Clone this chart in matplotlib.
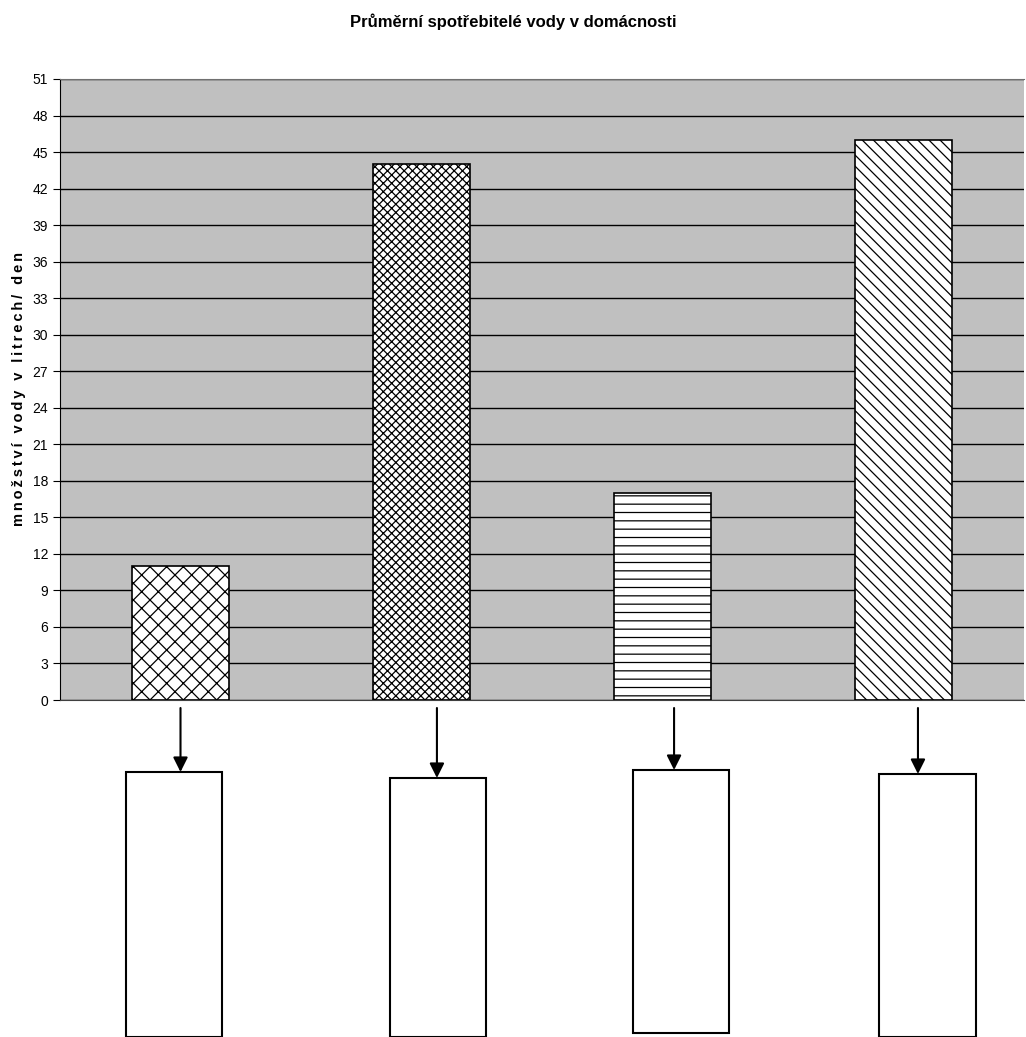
import numpy as np
import matplotlib.pyplot as plt
from matplotlib.patches import Rectangle

plt.rcParams['font.family'] = ['Liberation Sans', 'DejaVu Sans']
plt.rcParams['hatch.linewidth'] = 0.9
plt.rcParams['hatch.color'] = '#303030'

# data
kategorie = ['A', 'B', 'C', 'D']
hodnoty = [11, 44, 17, 46]
vzory = ['xx', 'xxxx', '--', '\\\\\\']
titulek = 'Průměrní spotřebitelé vody v domácnosti'
popisek_y = 'množství vody v litrech/ den'
yticky = list(range(0, 52, 3))

fig = plt.figure(figsize=(10.26, 10.37), dpi=100)
ax = fig.add_axes([60/1026, 1-700/1037, 964/1026, 621/1037])
ax.set_facecolor('#c0c0c0')

x = np.arange(len(kategorie))
for i in range(len(x)):
    ax.bar(x[i], hodnoty[i], width=0.4, color='white', edgecolor='black',
           hatch=vzory[i], linewidth=1.2, zorder=3)

ax.set_xlim(-0.5, 3.5)
ax.set_ylim(0, 51)
ax.set_yticks(yticky)
ax.tick_params(axis='y', labelsize=10, length=5, direction='out')
ax.set_xticks([])
ax.grid(axis='y', color='black', linewidth=1, zorder=1)
ax.set_axisbelow(True)
ax.spines['top'].set_color('#707070')
ax.spines['right'].set_visible(False)
ax.spines['bottom'].set_color('#404040')
# rozestrcene pismo jako v excelu
ax.set_ylabel('\u2009'.join(popisek_y), fontsize=10.5, fontweight='bold', labelpad=5)
fig.text(0.5, 1-22/1037, titulek, ha='center', va='center', fontsize=12, fontweight='bold')

# spodni cast se sipkami a prazdnymi boxy
ax2 = fig.add_axes([60/1026, 0, 964/1026, 337/1037])
ax2.set_xlim(-0.5, 3.5)
ax2.set_ylim(337, 0)
ax2.axis('off')
sipky_x = [0.0, 1.064, 2.048, 3.06]
sipky_konec = [72, 78, 70, 74]
boxy_x = [-0.027, 1.068, 2.077, 3.10]
boxy_top = [72, 78, 70, 74]
boxy_bottom = [337, 337, 333, 337]
for i in range(4):
    ax2.annotate('', xy=(sipky_x[i], sipky_konec[i]), xytext=(sipky_x[i], 8),
                 arrowprops=dict(arrowstyle='-|>', color='black', lw=1.5,
                                 mutation_scale=22, shrinkA=0, shrinkB=0))
    ax2.add_patch(Rectangle((boxy_x[i] - 0.2, boxy_top[i]), 0.4,
                            boxy_bottom[i] - boxy_top[i], facecolor='white',
                            edgecolor='black', linewidth=1.5, clip_on=False, zorder=2))

fig.savefig('out.png', dpi=100)
